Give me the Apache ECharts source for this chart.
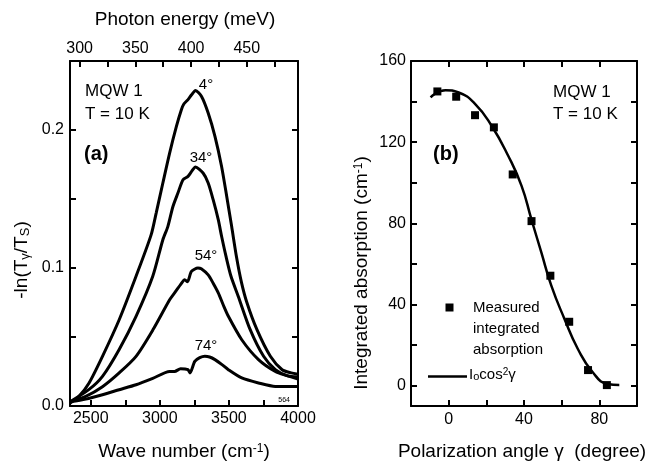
<!DOCTYPE html>
<html>
<head>
<meta charset="utf-8">
<script src="https://cdn.jsdelivr.net/npm/echarts@6/dist/echarts.min.js"></script>
<style>
html,body{margin:0;padding:0;background:#fff;}
#c{width:651px;height:466px;}
</style>
</head>
<body>
<div id="c"></div>
<script>
// ---------- Panel (a): absorption spectra ----------
const wave4  = [2350,2415,2488,2585,2706,2828,2937,2974,3022,3071,3120,3156,3175,3204,3230,3258,3302,3350,3399,3447,3484,3520,3555,3590,3630,3703,3800,3885,3950,4000];
const abs4   = [0.002,0.007,0.0167,0.036,0.0625,0.094,0.124,0.140,0.1616,0.1833,0.2026,0.2147,0.219,0.222,0.2255,0.2287,0.2243,0.2123,0.1954,0.1736,0.152,0.130,0.108,0.090,0.075,0.0553,0.036,0.0263,0.024,0.023];
const wave34 = [2350,2488,2585,2706,2828,2949,3022,3058,3095,3131,3168,3204,3230,3258,3313,3350,3386,3423,3447,3480,3515,3568,3654,3751,3836,3920,4000];
const abs34  = [0.003,0.012,0.0215,0.041,0.065,0.094,0.1205,0.130,0.1446,0.1543,0.164,0.1664,0.170,0.1732,0.1688,0.1616,0.1495,0.135,0.123,0.108,0.094,0.0794,0.0553,0.036,0.0263,0.022,0.021];
const wave54 = [2350,2464,2585,2706,2828,2949,3071,3107,3150,3180,3200,3229,3276,3300,3350,3386,3423,3460,3496,3593,3714,3836,3920,4000];
const abs54  = [0.003,0.007,0.014,0.024,0.036,0.055,0.077,0.082,0.088,0.0915,0.090,0.0975,0.100,0.0995,0.095,0.089,0.082,0.073,0.065,0.048,0.0336,0.025,0.022,0.0195];
const wave74 = [2350,2464,2585,2706,2828,2949,3071,3107,3150,3204,3218,3253,3289,3326,3360,3399,3450,3496,3593,3714,3836,3920,4000];
const abs74  = [0.003,0.005,0.0082,0.0118,0.0154,0.020,0.025,0.025,0.027,0.0263,0.024,0.0323,0.035,0.036,0.0355,0.0336,0.030,0.0263,0.0203,0.0167,0.0142,0.0142,0.0142];

const waveTicks   = [2500,2750,3000,3250,3500,3750];
const waveLabels  = [2500,3000,3500,4000];
const energyTicks = [300,325,350,375,400,425,450,475];   // meV
const energyLabels= [300,350,400,450];                   // meV
const absTicks    = [0.05,0.1,0.15,0.2];
const absLabels   = [0,0.1,0.2];

// ---------- Panel (b): integrated absorption vs angle ----------
const angles   = [-6,4,14,24,34,44,54,64,74,84];
const measured = [145.0,142.4,133.3,127.3,104.1,81.1,54.2,31.5,7.7,0.3];
const fitAngle = [-9.6,-1.7,5.3,14.1,22.8,31.6,38.7,43.9,49.2,54.5,61.5,68.6,76.5,84.4,90.6];
const fitValue = [142.1,145.6,144.5,138.8,128.1,113.3,98.5,82.1,65.7,49.3,32.9,18.1,6.6,0.8,0.3];

const angleTicks  = [0,20,40,60,80];
const angleLabels = [0,40,80];
const intTicks    = [0,20,40,60,80,100,120,140];
const intLabels   = [0,40,80,120,160];

const CM_PER_MEV = 8.06554;
const zip = (a,b) => a.map((v,i)=>[v,b[i]]);

const FONT = '"Liberation Sans", Arial, Helvetica, sans-serif';
const BLACK = '#000';

function axis(o) {
  return {
    type: 'value',
    gridIndex: o.grid,
    position: o.position,
    min: o.min, max: o.max,
    axisLine: {show: true, onZero: false, lineStyle: {color: BLACK, width: 2}},
    axisTick: {show: true, inside: true, length: 6, lineStyle: {color: BLACK, width: 2}, customValues: o.ticks},
    axisLabel: o.labels ? {show: true, customValues: o.labels, color: BLACK, fontFamily: FONT, fontSize: 16, margin: o.margin, formatter: o.fmt, showMinLabel: true, showMaxLabel: true} : {show: false},
    splitLine: {show: false},
    minorTick: {show: false}
  };
}

const chart = echarts.init(document.getElementById('c'), null, {renderer: 'canvas'});

const rich = (size) => ({
  sub: {fontFamily: FONT, fontSize: Math.round(size*0.7), verticalAlign: 'bottom', fill: BLACK},
  sup: {fontFamily: FONT, fontSize: Math.round(size*0.65), verticalAlign: 'top', fill: BLACK}
});

function text(x, y, str, size, extra) {
  return {
    type: 'text', x: x, y: y, silent: true,
    style: Object.assign({text: str, fill: BLACK, fontFamily: FONT, fontSize: size, align: 'left', verticalAlign: 'middle'}, extra || {})
  };
}
function richText(x, y, str, size, extra) {
  return {
    type: 'text', x: x, y: y, silent: true, rotation: (extra && extra.rotation) || 0,
    style: Object.assign({text: str, fill: BLACK, fontFamily: FONT, fontSize: size, align: 'center', verticalAlign: 'middle', rich: rich(size)}, (extra && extra.style) || {})
  };
}

const option = {
  animation: false,
  backgroundColor: '#fff',
  grid: [
    {left: 70, top: 61, width: 228, height: 345, containLabel: false},
    {left: 411, top: 61, width: 226, height: 345, containLabel: false}
  ],
  xAxis: [
    axis({grid: 0, position: 'bottom', min: 2350, max: 4000, ticks: waveTicks, labels: waveLabels, margin: 5, fmt: v => String(Math.round(v))}),
    axis({grid: 0, position: 'top', min: 2350, max: 4000, ticks: energyTicks.map(e => e*CM_PER_MEV), labels: energyLabels.map(e => e*CM_PER_MEV), margin: 4, fmt: v => String(Math.round(v/CM_PER_MEV))}),
    axis({grid: 1, position: 'bottom', min: -20, max: 100, ticks: angleTicks, labels: angleLabels, margin: 6, fmt: v => String(Math.round(v))}),
    axis({grid: 1, position: 'top', min: -20, max: 100, ticks: angleTicks})
  ],
  yAxis: [
    axis({grid: 0, position: 'left', min: 0, max: 0.25, ticks: absTicks, labels: absLabels, margin: 6, fmt: v => v.toFixed(1)}),
    axis({grid: 0, position: 'right', min: 0, max: 0.25, ticks: absTicks}),
    axis({grid: 1, position: 'left', min: -10, max: 160, ticks: intTicks, labels: intLabels, margin: 5, fmt: v => String(Math.round(v))}),
    axis({grid: 1, position: 'right', min: -10, max: 160, ticks: intTicks})
  ],
  series: [
    {type: 'line', xAxisIndex: 0, yAxisIndex: 0, data: zip(wave4, abs4), showSymbol: false, smooth: 0.25, lineStyle: {color: BLACK, width: 3}},
    {type: 'line', xAxisIndex: 0, yAxisIndex: 0, data: zip(wave34, abs34), showSymbol: false, smooth: 0.25, lineStyle: {color: BLACK, width: 3}},
    {type: 'line', xAxisIndex: 0, yAxisIndex: 0, data: zip(wave54, abs54), showSymbol: false, smooth: 0.25, lineStyle: {color: BLACK, width: 3}},
    {type: 'line', xAxisIndex: 0, yAxisIndex: 0, data: zip(wave74, abs74), showSymbol: false, smooth: 0.25, lineStyle: {color: BLACK, width: 3}},
    {type: 'line', xAxisIndex: 2, yAxisIndex: 2, data: zip(fitAngle, fitValue), showSymbol: false, smooth: 0.5, lineStyle: {color: BLACK, width: 2.5}},
    {type: 'scatter', xAxisIndex: 2, yAxisIndex: 2, data: zip(angles, measured), symbol: 'rect', symbolSize: 8, itemStyle: {color: BLACK, opacity: 1}}
  ],
  graphic: [
    // axis titles
    richText(185, 20, 'Photon energy (meV)', 19),
    richText(184, 452, 'Wave number (cm{sup|-1})', 19),
    richText(22, 260, '-ln(T{sub|γ}/T{sub|S})', 19, {rotation: Math.PI/2}),
    richText(522, 452, 'Polarization angle γ  (degree)', 19),
    richText(362, 273, 'Integrated absorption (cm{sup|-1})', 19, {rotation: Math.PI/2}),
    // panel (a) annotations
    text(85, 91, 'MQW 1', 17),
    text(85, 114, 'T = 10 K', 17),
    text(84, 154, '(a)', 20, {fontWeight: 'bold'}),
    text(206, 85, '4°', 15, {align: 'center'}),
    text(201, 158, '34°', 15, {align: 'center'}),
    text(206, 256, '54°', 15, {align: 'center'}),
    text(206, 346, '74°', 15, {align: 'center'}),
    text(290, 400, '564', 7, {align: 'right'}),
    // panel (b) annotations
    text(553, 92, 'MQW 1', 17),
    text(553, 114, 'T = 10 K', 17),
    text(433, 154, '(b)', 20, {fontWeight: 'bold'}),
    {type: 'rect', shape: {x: 445.5, y: 303.5, width: 8, height: 8}, style: {fill: BLACK}, silent: true},
    text(473, 308, 'Measured', 15),
    text(473, 329, 'integrated', 15),
    text(473, 350, 'absorption', 15),
    {type: 'line', shape: {x1: 428, y1: 376.5, x2: 467, y2: 376.5}, style: {stroke: BLACK, lineWidth: 2.5}, silent: true},
    richText(469, 375, 'I{sub|o}cos{sup|2}γ', 15, {style: {align: 'left'}})
  ]
};
chart.setOption(option);
</script>
</body>
</html>
